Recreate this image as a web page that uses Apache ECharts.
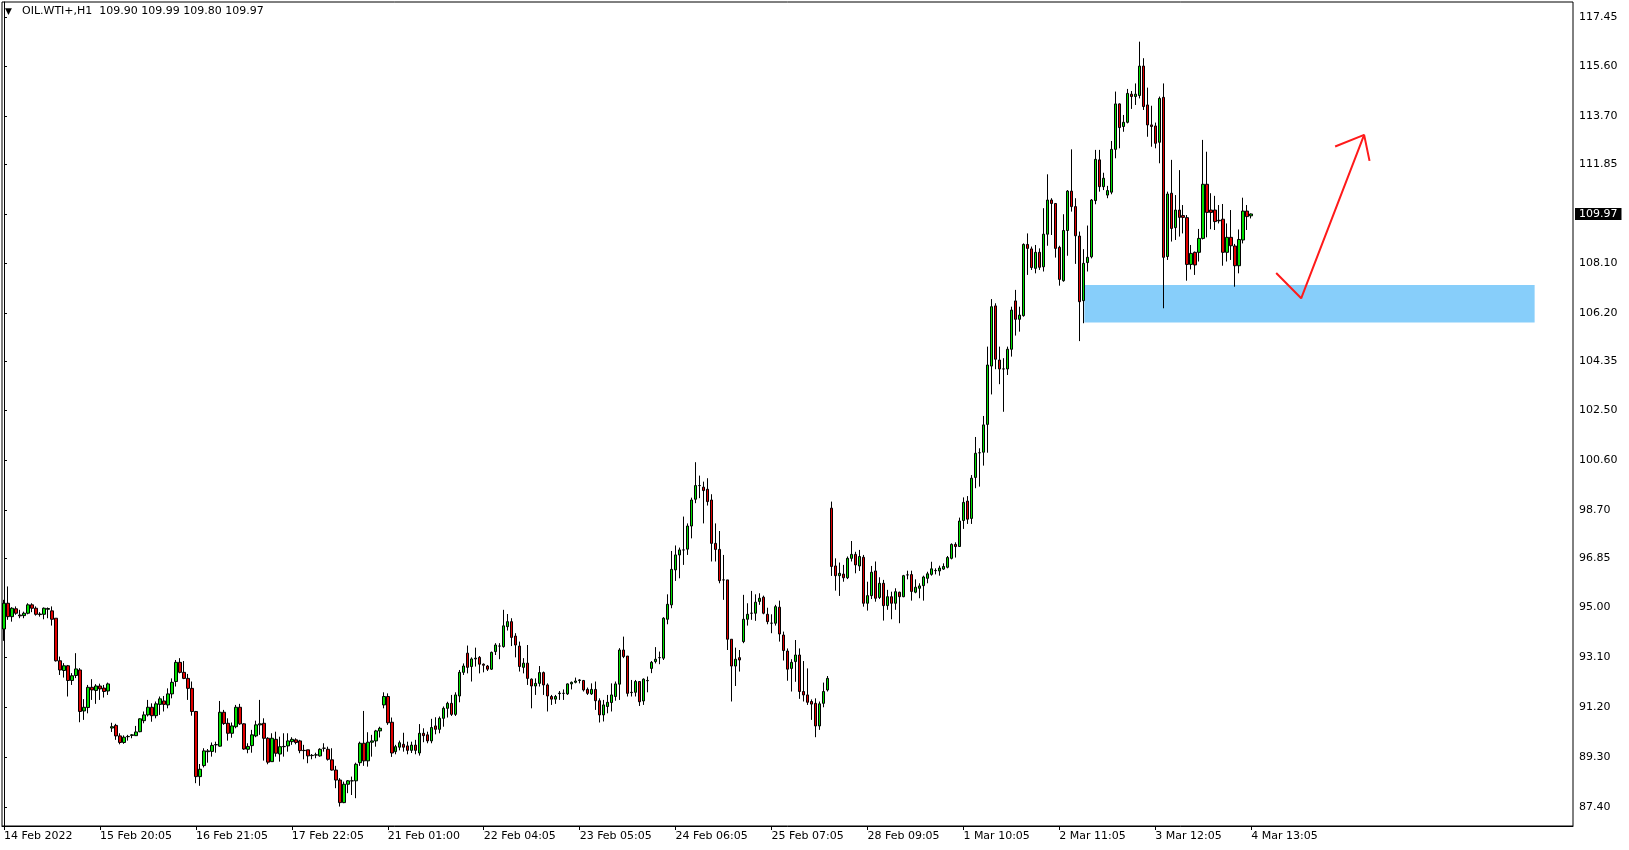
<!DOCTYPE html>
<html>
<head>
<meta charset="utf-8">
<script src="https://cdn.jsdelivr.net/npm/echarts@6.0.0/dist/echarts.min.js"></script>
<style>
html,body{margin:0;padding:0;background:#fff;}
#chart{width:1629px;height:850px;}
</style>
</head>
<body>
<div id="chart"></div>
<script>
// ---- data ----
const symbolTitle = 'OIL.WTI+,H1  109.90 109.99 109.80 109.97';
const tickLabels = ['14 Feb 2022','15 Feb 20:05','16 Feb 21:05','17 Feb 22:05','21 Feb 01:00','22 Feb 04:05','23 Feb 05:05','24 Feb 06:05','25 Feb 07:05','28 Feb 09:05','1 Mar 10:05','2 Mar 11:05','3 Mar 12:05','4 Mar 13:05'];
const barsPerLabel = 24;
const emptyBarsRight = 80;
const yTicks = [117.45,115.60,113.70,111.85,108.10,106.20,104.35,102.50,100.60,98.70,96.85,95.00,93.10,91.20,89.30,87.40];
const yMin = 86.67, yMax = 118.04;
const lastPrice = 109.97;

const opens = [
94.17,95.15,94.64,94.94,94.70,94.68,94.77,95.09,94.96,94.72,
94.73,94.92,94.86,94.58,92.96,92.59,92.77,92.21,92.40,92.61,
91.05,91.18,91.95,91.83,92.00,91.92,91.81,90.40,90.50,90.10,
89.85,90.07,90.12,90.11,90.26,90.68,90.90,91.19,90.87,91.30,
91.43,91.28,91.70,92.17,92.90,92.52,92.29,91.91,91.03,88.55,
88.97,89.50,89.51,89.76,89.71,91.00,90.58,90.20,90.45,91.19,
90.56,89.59,89.73,90.10,90.52,90.58,90.01,89.12,89.97,89.41,
89.69,89.72,89.88,89.95,89.91,89.55,89.57,89.35,89.37,89.34,
89.63,89.59,89.19,88.80,88.42,87.56,88.26,88.39,88.39,89.08,
89.82,89.15,89.86,89.91,90.29,91.28,91.60,90.62,89.50,89.67,
89.78,89.72,89.55,89.75,89.45,90.20,90.14,89.91,90.48,90.35,
90.77,91.15,91.34,90.92,91.62,92.52,93.25,92.74,93.03,93.09,
92.83,92.76,92.64,93.31,93.52,93.50,94.26,94.45,93.90,93.52,
92.71,92.87,92.26,92.00,92.10,92.51,92.04,91.60,91.50,91.71,
91.72,91.70,92.08,92.14,92.21,92.21,91.87,91.70,91.87,91.44,
90.90,91.22,91.37,91.60,92.07,93.37,93.14,91.75,91.76,92.17,
91.43,92.20,92.67,92.93,93.08,93.06,94.54,95.09,96.42,96.99,
97.18,97.21,98.09,99.11,99.63,99.57,99.49,99.08,97.43,97.20,
96.04,96.04,93.78,92.76,93.08,93.69,94.54,94.77,94.77,95.22,
95.38,94.73,94.39,94.39,95.00,93.94,93.33,92.67,92.93,93.18,
91.79,91.66,91.41,91.34,90.48,91.34,91.85,98.77,96.57,96.20,
96.26,96.12,96.86,97.01,96.57,96.90,95.15,95.44,96.38,95.37,
95.91,95.06,95.40,95.15,95.57,95.40,96.23,96.24,95.57,95.72,
95.82,96.10,96.25,96.39,96.38,96.45,96.52,96.86,97.39,97.31,
98.30,99.04,98.38,99.94,100.88,100.90,101.96,104.18,106.47,104.41,
104.07,104.07,104.82,106.66,105.96,106.10,108.81,108.64,107.90,108.51,
107.96,109.20,110.50,110.37,108.70,107.43,109.34,110.84,110.25,109.13,
106.67,108.12,108.34,110.48,112.03,111.01,110.69,110.80,112.43,114.16,
113.30,113.46,114.53,114.44,114.48,115.60,114.12,113.36,113.32,112.70,
114.41,108.35,110.76,109.45,110.12,109.91,109.83,108.05,108.51,108.51,
109.04,111.10,110.12,110.12,109.73,109.77,108.51,109.08,108.75,108.00,
108.98,110.08,109.90
];
const highs = [
95.28,95.79,95.00,95.03,94.90,94.83,95.15,95.15,95.03,94.81,
94.99,94.99,95.03,94.58,93.12,92.87,92.80,92.49,93.25,92.68,
91.50,92.04,92.26,92.07,92.09,92.04,92.13,90.60,90.56,90.20,
90.12,90.14,90.17,90.48,90.77,91.03,91.47,91.34,91.41,91.60,
91.62,91.91,92.29,92.99,93.06,92.95,92.46,92.17,91.05,89.03,
89.63,89.60,89.85,89.88,91.43,91.09,90.77,90.61,91.28,91.32,
90.58,89.82,90.33,90.68,91.47,90.77,90.05,90.20,90.26,90.07,
90.20,90.20,90.05,90.01,89.95,89.76,89.57,89.41,89.46,89.63,
89.82,89.69,89.63,88.96,88.49,88.36,88.42,88.55,89.08,89.88,
91.05,90.24,90.14,90.33,90.45,91.76,91.72,90.80,89.76,89.92,
90.22,89.88,89.88,89.95,90.55,90.39,90.26,90.75,90.81,90.84,
91.22,91.40,91.66,91.76,92.61,92.86,93.54,93.09,93.46,93.14,
92.86,92.80,93.31,93.63,93.63,94.90,94.74,94.58,94.01,93.69,
93.06,93.56,92.29,92.29,92.76,92.55,92.10,91.66,91.66,91.81,
91.87,92.10,92.17,92.32,92.26,92.23,91.94,92.10,92.17,91.53,
91.47,91.66,92.10,92.17,93.44,93.88,93.14,92.23,92.23,92.17,
92.29,92.36,92.95,93.48,93.31,94.62,95.49,97.14,97.35,97.27,
98.45,98.19,99.17,100.52,100.01,99.78,99.91,99.30,98.19,97.90,
96.99,96.04,93.78,93.46,93.37,95.47,95.15,95.62,95.49,95.53,
95.44,94.98,94.73,95.09,95.25,94.07,93.43,93.02,93.75,93.43,
92.95,92.67,91.49,91.53,91.41,92.13,92.38,99.02,96.86,96.70,
96.61,96.93,97.52,97.11,97.18,96.99,95.97,96.57,96.74,96.14,
96.04,95.66,95.59,95.72,95.59,96.23,96.39,96.39,96.06,95.91,
96.20,96.35,96.73,96.48,96.58,96.67,96.95,97.43,97.47,98.41,
99.18,99.23,100.03,101.48,101.05,102.28,104.92,106.73,106.57,104.92,
104.48,104.92,106.44,107.08,106.44,108.85,109.23,108.73,108.79,108.66,
110.19,111.48,110.57,110.37,108.76,109.96,110.88,112.43,110.57,109.30,
108.63,109.53,110.54,112.41,112.41,111.54,111.04,112.75,114.63,114.18,
113.74,114.73,114.65,114.94,116.53,115.90,114.78,114.09,113.45,114.44,
114.94,110.82,112.03,110.69,111.64,110.31,109.93,108.79,108.54,109.40,
112.79,112.34,110.76,110.66,110.31,110.35,109.61,110.12,108.83,109.38,
110.59,110.31,109.99
];
const lows = [
93.72,94.52,94.45,94.71,94.58,94.58,94.73,94.81,94.68,94.64,
94.54,94.58,94.30,92.93,92.42,92.32,91.60,92.04,92.30,90.62,
90.71,90.96,91.47,91.32,91.47,91.56,91.66,90.25,89.95,89.78,
89.80,89.92,90.01,90.10,90.24,90.58,90.84,90.64,90.77,90.90,
91.03,91.15,91.53,91.98,92.48,92.26,91.47,90.87,88.30,88.20,
88.90,89.08,89.31,89.46,89.69,90.52,89.92,90.03,90.39,90.52,
89.57,89.44,89.46,90.05,90.14,89.16,89.02,89.12,89.31,89.12,
89.31,89.50,89.76,89.78,89.44,89.21,89.06,89.21,89.25,89.31,
89.50,89.16,88.78,88.11,87.41,87.54,87.92,87.85,87.73,88.96,
88.96,88.93,89.31,89.69,90.04,91.15,90.52,89.30,89.40,89.55,
89.50,89.40,89.45,89.40,89.35,89.86,89.82,89.82,90.16,90.20,
90.45,90.80,90.86,90.86,91.38,92.42,92.48,92.17,92.74,92.48,
92.52,92.57,92.61,93.18,93.02,93.46,94.11,93.52,93.09,92.55,
92.48,92.04,91.15,91.66,91.98,91.66,91.03,91.28,91.32,91.47,
91.47,91.66,91.87,92.10,92.10,91.79,91.66,91.66,91.09,90.61,
90.65,90.96,91.03,91.44,91.47,93.06,91.60,91.60,91.60,91.24,
91.28,91.76,92.49,92.86,92.83,92.99,94.35,94.96,96.00,96.10,
96.61,96.99,97.62,98.96,99.15,98.19,98.87,96.74,96.74,95.91,
95.28,93.37,91.41,92.00,92.55,93.63,94.30,94.52,94.48,95.09,
94.73,94.35,94.01,94.30,93.69,92.97,92.20,91.79,92.16,91.51,
91.41,91.28,90.71,90.05,90.33,91.19,91.79,96.19,95.63,95.43,
95.97,96.07,96.74,96.29,96.38,95.02,94.87,95.31,95.21,95.31,
94.49,94.90,94.54,94.90,94.39,95.38,96.06,95.25,95.53,95.34,
95.25,95.91,96.20,96.25,96.20,96.42,96.48,96.82,96.89,97.31,
97.98,98.17,98.17,99.53,99.59,100.39,100.88,103.10,104.06,103.49,
102.44,103.84,104.54,105.34,105.49,106.06,107.65,107.84,107.71,107.84,
107.78,108.76,109.17,108.31,107.24,107.39,108.38,110.06,108.07,105.13,
105.81,107.78,108.28,110.34,110.82,110.88,110.57,110.72,112.09,112.47,
113.10,113.42,113.97,114.12,114.37,113.93,112.91,112.53,112.47,111.90,
106.38,108.22,108.92,108.98,109.11,109.23,107.43,107.86,107.65,108.16,
109.00,109.08,109.39,109.36,109.61,108.00,108.16,108.22,107.20,107.71,
108.85,109.36,109.80
];
const closes = [
95.15,94.64,94.96,94.77,94.67,94.77,95.09,94.96,94.73,94.74,
94.96,94.95,94.54,92.96,92.61,92.77,92.21,92.39,92.65,91.03,
91.19,91.95,91.85,92.00,91.89,91.79,92.08,90.45,90.10,89.85,
90.05,90.08,90.14,90.25,90.75,90.90,91.19,90.87,91.32,91.51,
91.30,91.70,92.14,92.90,92.52,92.29,91.91,91.03,88.55,88.83,
89.53,89.53,89.74,89.77,91.00,90.57,90.20,90.48,91.19,90.56,
89.60,89.70,90.14,90.52,90.56,90.01,89.10,90.01,89.44,89.69,
89.70,89.91,89.97,89.85,89.54,89.54,89.34,89.36,89.38,89.59,
89.63,89.21,88.80,88.42,87.56,88.26,88.39,88.39,89.02,89.82,
89.15,89.86,89.91,90.29,90.39,91.60,90.60,89.45,89.69,89.84,
89.67,89.55,89.75,89.55,90.20,90.11,89.91,90.42,90.35,90.77,
91.15,91.34,90.92,91.66,92.52,92.76,92.71,93.03,93.06,92.83,
92.79,92.64,93.28,93.56,93.52,94.29,94.45,93.85,93.56,92.74,
92.87,92.29,92.00,92.10,92.51,92.04,91.62,91.50,91.60,91.73,
91.72,92.08,92.14,92.19,92.23,91.85,91.72,91.87,91.44,90.90,
91.28,91.38,91.66,92.08,93.37,93.12,91.72,91.76,92.17,91.40,
92.26,92.21,92.90,93.02,93.08,94.58,95.11,96.44,96.99,97.18,
97.18,98.09,99.08,99.63,99.63,99.44,99.02,97.43,97.20,96.01,
96.04,93.78,92.76,93.02,92.99,94.54,94.73,94.77,95.19,95.34,
94.77,94.45,94.39,95.02,93.98,93.35,92.64,92.90,93.18,91.79,
91.66,91.38,91.31,90.48,91.32,91.79,92.29,96.55,96.20,96.29,
96.12,96.86,97.01,96.61,96.93,95.15,95.44,96.33,95.34,95.91,
95.06,95.40,95.15,95.59,95.40,96.20,96.23,95.60,95.76,95.81,
96.15,96.27,96.46,96.40,96.49,96.55,96.89,97.39,97.31,98.28,
98.99,98.35,99.91,100.86,100.88,101.94,104.22,106.44,104.44,104.07,
104.07,104.82,106.31,105.96,106.12,108.81,108.66,107.93,108.51,107.94,
109.20,110.50,110.37,108.66,107.48,109.34,110.84,110.25,109.14,106.63,
108.09,108.32,110.50,112.05,111.01,111.33,110.86,112.43,114.16,113.26,
113.46,114.56,114.44,114.53,115.60,114.06,113.36,113.30,112.66,114.37,
108.32,110.73,109.42,110.12,109.84,109.84,108.05,108.47,108.03,109.04,
111.10,110.03,110.03,109.68,109.71,108.51,109.08,108.76,108.00,109.00,
110.08,109.87,109.97
];
// support zone [barFrom, priceTop, barTo, priceBottom]
const supportZone = [270.25, 107.27, 382.9, 105.84];
// hand-drawn arrow [bar, price]
const arrowBody = [[318.25,107.72],[324.5,106.76],[340.25,112.98]];
const arrowHead = [[333.0,112.54],[340.25,112.98],[341.6,111.99]];

// ---- build ----
const nBars = opens.length + emptyBarsRight;
const categories = Array.from({length: nBars}, (_, i) => String(i));
const candleData = opens.map((o, i) => [o, closes[i], lows[i], highs[i]]);
const FONT = 'DejaVu Sans';
const isLabelIdx = (i) => i % barsPerLabel === 0 && (i / barsPerLabel) < tickLabels.length;

const chart = echarts.init(document.getElementById('chart'), null, {renderer: 'canvas'});
chart.setOption({
  animation: false,
  backgroundColor: '#ffffff',
  title: {
    text: '{t|▼}' + symbolTitle,
    left: 5, top: 6, padding: 0,
    textStyle: {
      fontFamily: FONT, fontSize: 11, fontWeight: 'normal', color: '#000',
      rich: { t: { fontFamily: FONT, fontSize: 9, width: 17, color: '#000' } }
    }
  },
  grid: { left: 2, right: 56, top: 2, bottom: 24, show: true, borderColor: '#000', borderWidth: 1, backgroundColor: 'transparent' },
  xAxis: [
    {
      type: 'category', data: categories, boundaryGap: true,
      axisLine: { show: true, lineStyle: { color: '#000', width: 1 } },
      axisTick: { show: true, alignWithLabel: true, interval: (i) => isLabelIdx(i), length: 4, lineStyle: { color: '#000' } },
      axisLabel: {
        interval: (i) => isLabelIdx(i),
        formatter: (v, i) => isLabelIdx(i) ? tickLabels[i / barsPerLabel] : '',
        align: 'left', fontFamily: FONT, fontSize: 11, color: '#000', margin: 5
      },
      splitLine: { show: false }
    },
    { type: 'value', min: -0.5, max: nBars - 0.5, show: false }
  ],
  yAxis: {
    type: 'value', position: 'right', min: yMin, max: yMax,
    axisLine: { show: true, lineStyle: { color: '#000' } },
    axisTick: { show: true, customValues: yTicks.concat([lastPrice]), length: 3, lineStyle: { color: '#000' } },
    axisLabel: { customValues: yTicks, formatter: (v) => Number(v).toFixed(2), fontFamily: FONT, fontSize: 11, color: '#000', margin: 6 },
    splitLine: { show: false }
  },
  series: [
    {
      type: 'custom', xAxisIndex: 1, yAxisIndex: 0, z: 1, silent: true,
      data: [supportZone],
      renderItem: (params, api) => {
        const p0 = api.coord([api.value(0), api.value(1)]);
        const p1 = api.coord([api.value(2), api.value(3)]);
        return { type: 'rect', shape: { x: p0[0], y: p0[1], width: p1[0] - p0[0], height: p1[1] - p0[1] }, style: { fill: '#87cefa' } };
      }
    },
    {
      type: 'candlestick', z: 2, silent: true,
      data: candleData, barWidth: 3,
      itemStyle: { color: '#00e000', color0: '#e00000', borderColor: '#000', borderColor0: '#000', borderColorDoji: '#000', borderWidth: 1 },
      markLine: {
        silent: true, symbol: ['none', 'none'], animation: false,
        lineStyle: { color: 'rgba(0,0,0,0)', width: 1, type: 'solid' },
        label: { show: true, position: 'end', distance: 2, formatter: () => lastPrice.toFixed(2),
          color: '#fff', backgroundColor: '#000', padding: [1, 4, 0, 4], fontFamily: FONT, fontSize: 11 },
        emphasis: { disabled: true },
        data: [{ yAxis: lastPrice }]
      }
    },
    {
      type: 'line', xAxisIndex: 1, yAxisIndex: 0, z: 5, silent: true,
      data: arrowBody, symbol: 'none', lineStyle: { color: '#ff1a1a', width: 2 }
    },
    {
      type: 'line', xAxisIndex: 1, yAxisIndex: 0, z: 5, silent: true,
      data: arrowHead, symbol: 'none', lineStyle: { color: '#ff1a1a', width: 2 }
    }
  ]
});
</script>
</body>
</html>
